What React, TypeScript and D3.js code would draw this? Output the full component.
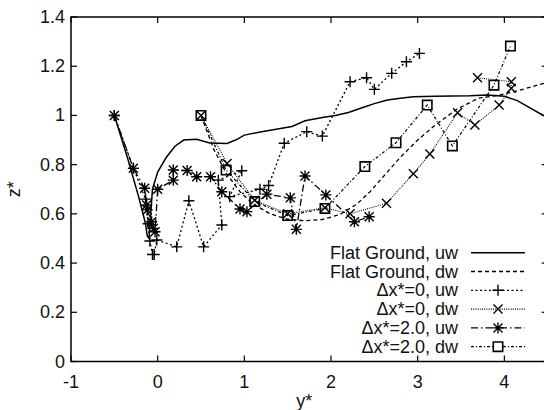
import React from "react";
import * as d3 from "d3";

type P = [number, number];

const xTicks = [-1, 0, 1, 2, 3, 4];
const yTicks = [0, 0.2, 0.4, 0.6, 0.8, 1, 1.2, 1.4];

const flatUw: P[] = [
  [-0.5, 1.0], [-0.35, 0.83], [-0.22, 0.67], [-0.14, 0.56], [-0.12, 0.51], [-0.1, 0.5],
  [-0.08, 0.6], [-0.06, 0.7], [0.0, 0.77], [0.1, 0.83], [0.2, 0.875], [0.3, 0.9],
  [0.45, 0.903], [0.6, 0.888], [0.8, 0.886], [0.9, 0.9], [1.0, 0.92], [1.2, 0.934],
  [1.4, 0.946], [1.55, 0.955], [1.7, 0.978], [1.9, 0.992], [2.05, 1.0], [2.2, 1.012],
  [2.35, 1.03], [2.5, 1.048], [2.65, 1.063], [2.8, 1.07], [2.95, 1.076], [3.2, 1.078],
  [3.4, 1.079], [3.6, 1.08], [3.8, 1.083], [4.0, 1.078], [4.15, 1.06], [4.3, 1.03],
  [4.45, 1.0], [4.55, 0.99],
];

const flatDw: P[] = [
  [0.5, 1.0], [0.65, 0.86], [0.8, 0.76], [0.95, 0.69], [1.1, 0.64], [1.3, 0.6],
  [1.5, 0.578], [1.7, 0.572], [1.9, 0.577], [2.1, 0.597], [2.3, 0.64], [2.45, 0.69],
  [2.6, 0.75], [2.8, 0.83], [3.0, 0.9], [3.2, 0.96], [3.45, 1.025], [3.7, 1.07],
  [3.95, 1.083], [4.15, 1.1], [4.35, 1.12], [4.55, 1.14],
];

const dx0Uw: P[] = [
  [-0.5, 1.0], [-0.28, 0.785], [-0.14, 0.66], [-0.11, 0.56], [-0.09, 0.49], [-0.06, 0.435],
  [-0.04, 0.435], [-0.01, 0.494], [0.22, 0.466], [0.36, 0.653], [0.53, 0.466], [0.74, 0.555],
  [0.7, 0.737], [0.97, 0.775], [0.83, 0.67], [1.18, 0.7], [1.28, 0.715], [1.46, 0.887],
  [1.72, 0.934], [1.9, 0.916], [2.22, 1.137], [2.41, 1.153], [2.5, 1.106], [2.7, 1.171],
  [2.87, 1.218], [3.02, 1.252],
];

const dx0Dw: P[] = [
  [0.5, 1.0], [0.8, 0.805], [1.12, 0.655], [1.5, 0.6], [1.93, 0.625], [2.22, 0.6],
  [2.64, 0.643], [2.95, 0.763], [3.14, 0.843], [3.46, 1.011], [3.66, 0.961], [3.94, 1.042],
  [4.08, 1.11], [4.08, 1.137], [3.69, 1.153],
];

const dx2Uw: P[] = [
  [-0.5, 1.0], [-0.28, 0.785], [-0.15, 0.704], [-0.127, 0.636], [-0.12, 0.616], [-0.07, 0.568],
  [-0.05, 0.541], [-0.03, 0.527], [0.0, 0.7], [0.18, 0.737], [0.18, 0.778], [0.34, 0.776],
  [0.45, 0.751], [0.61, 0.751], [0.74, 0.69], [0.95, 0.62], [1.03, 0.609], [1.26, 0.68],
  [1.53, 0.665], [1.6, 0.537], [1.7, 0.754], [1.94, 0.677], [2.27, 0.568], [2.44, 0.588],
];

const dx2Dw: P[] = [
  [0.5, 1.0], [0.79, 0.778], [1.12, 0.65], [1.5, 0.593], [1.93, 0.622], [2.39, 0.792],
  [2.75, 0.889], [3.11, 1.042], [3.4, 0.876], [3.88, 1.123], [4.07, 1.282],
];

const seriesLabels = [
  "Flat Ground, uw",
  "Flat Ground, dw",
  "\u0394x*=0, uw",
  "\u0394x*=0, dw",
  "\u0394x*=2.0, uw",
  "\u0394x*=2.0, dw",
];

const W = 544;
const H = 410;
const L = 71, R = 547.7, T = 17, B = 361.5;

const x = d3.scaleLinear().domain([-1, 4.5]).range([L, R]);
const y = d3.scaleLinear().domain([0, 1.4]).range([B, T]);

type Marker = "none" | "plus" | "cross" | "star" | "square";

const styles: { data: P[]; dash: string | undefined; width: number; marker: Marker }[] = [
  { data: flatUw, dash: undefined, width: 1.5, marker: "none" },
  { data: flatDw, dash: "4,3", width: 1.3, marker: "none" },
  { data: dx0Uw, dash: "2,2.5", width: 1.3, marker: "plus" },
  { data: dx0Dw, dash: "1,1.2", width: 1.1, marker: "cross" },
  { data: dx2Uw, dash: "7,3,1.5,3", width: 1.3, marker: "star" },
  { data: dx2Dw, dash: "3,2,1,2", width: 1.2, marker: "square" },
];

function markerPath(m: Marker, cx: number, cy: number): string {
  const a = 5.5;
  const c = 4.5;
  switch (m) {
    case "plus":
      return `M${cx - a},${cy}H${cx + a}M${cx},${cy - a}V${cy + a}`;
    case "cross":
      return `M${cx - c},${cy - c}L${cx + c},${cy + c}M${cx + c},${cy - c}L${cx - c},${cy + c}`;
    case "star":
      return `M${cx - a},${cy}H${cx + a}M${cx},${cy - a}V${cy + a}M${cx - c},${cy - c}L${cx + c},${cy + c}M${cx + c},${cy - c}L${cx - c},${cy + c}`;
    case "square":
      return `M${cx - 4.7},${cy - 4.7}h9.4v9.4h-9.4Z`;
    default:
      return "";
  }
}

const line = d3.line<P>().x((d) => x(d[0])).y((d) => y(d[1]));

export default function App() {
  const font = "'Liberation Sans', Arial, Helvetica, sans-serif";
  const legendRight = 458;
  const legendY0 = 252.7;
  const legendStep = 18.8;
  const sampleX0 = 471;
  const sampleX1 = 525;
  return (
    <svg
      width={W}
      height={H}
      style={{ position: "absolute", left: 0, top: 0, background: "#fff" }}
      fontFamily={font}
    >
      <defs>
        <clipPath id="plotclip">
          <rect x={L} y={T} width={R - L} height={B - T} />
        </clipPath>
      </defs>
      <rect x={0} y={0} width={W} height={H} fill="#fff" />
      {/* ticks */}
      <g stroke="#000" strokeWidth={1.2}>
        {xTicks.map((t) => (
          <g key={"xt" + t}>
            <line x1={x(t)} x2={x(t)} y1={B} y2={B - 6} />
            <line x1={x(t)} x2={x(t)} y1={T} y2={T + 6} />
          </g>
        ))}
        {yTicks.map((t) => (
          <g key={"yt" + t}>
            <line x1={L} x2={L + 6} y1={y(t)} y2={y(t)} />
            <line x1={R} x2={R - 6} y1={y(t)} y2={y(t)} />
          </g>
        ))}
      </g>
      {/* series */}
      <g clipPath="url(#plotclip)">
        {styles.map((s, i) => (
          <path
            key={"l" + i}
            d={line(s.data) || ""}
            fill="none"
            stroke="#000"
            strokeWidth={s.width}
            strokeDasharray={s.dash}
          />
        ))}
        {styles.map((s, i) =>
          s.marker === "none" ? null : (
            <path
              key={"m" + i}
              d={s.data.map((d) => markerPath(s.marker, x(d[0]), y(d[1]))).join("")}
              fill="none"
              stroke="#000"
              strokeWidth={s.marker === "square" ? 1.6 : 1.4}
            />
          )
        )}
      </g>
      {/* frame */}
      <rect x={L} y={T} width={R - L} height={B - T} fill="none" stroke="#000" strokeWidth={1.5} />
      {/* tick labels */}
      <g fontSize={18} fill="#111">
        {xTicks.map((t) => (
          <text key={"xl" + t} x={x(t)} y={388} textAnchor="middle">
            {String(t)}
          </text>
        ))}
        {yTicks.map((t) => (
          <text key={"yl" + t} x={L - 6} y={y(t) + 6} textAnchor="end">
            {String(t)}
          </text>
        ))}
        <text x={(x(-1) + x(4.5)) / 2 - 5} y={407} textAnchor="middle">
          y*
        </text>
        <text transform={`translate(20,${(T + B) / 2}) rotate(-90)`} textAnchor="middle">
          z*
        </text>
      </g>
      {/* legend */}
      <g fontSize={18} fill="#111">
        {styles.map((s, i) => {
          const ly = legendY0 + i * legendStep;
          return (
            <g key={"lg" + i}>
              <text x={legendRight} y={ly + 6} textAnchor="end">
                {seriesLabels[i]}
              </text>
              <line
                x1={sampleX0}
                x2={sampleX1}
                y1={ly}
                y2={ly}
                stroke="#000"
                strokeWidth={s.width}
                strokeDasharray={s.dash}
              />
              {s.marker !== "none" && (
                <path
                  d={markerPath(s.marker, (sampleX0 + sampleX1) / 2, ly)}
                  fill="#fff"
                  stroke="#000"
                  strokeWidth={s.marker === "square" ? 1.6 : 1.4}
                />
              )}
            </g>
          );
        })}
      </g>
    </svg>
  );
}
